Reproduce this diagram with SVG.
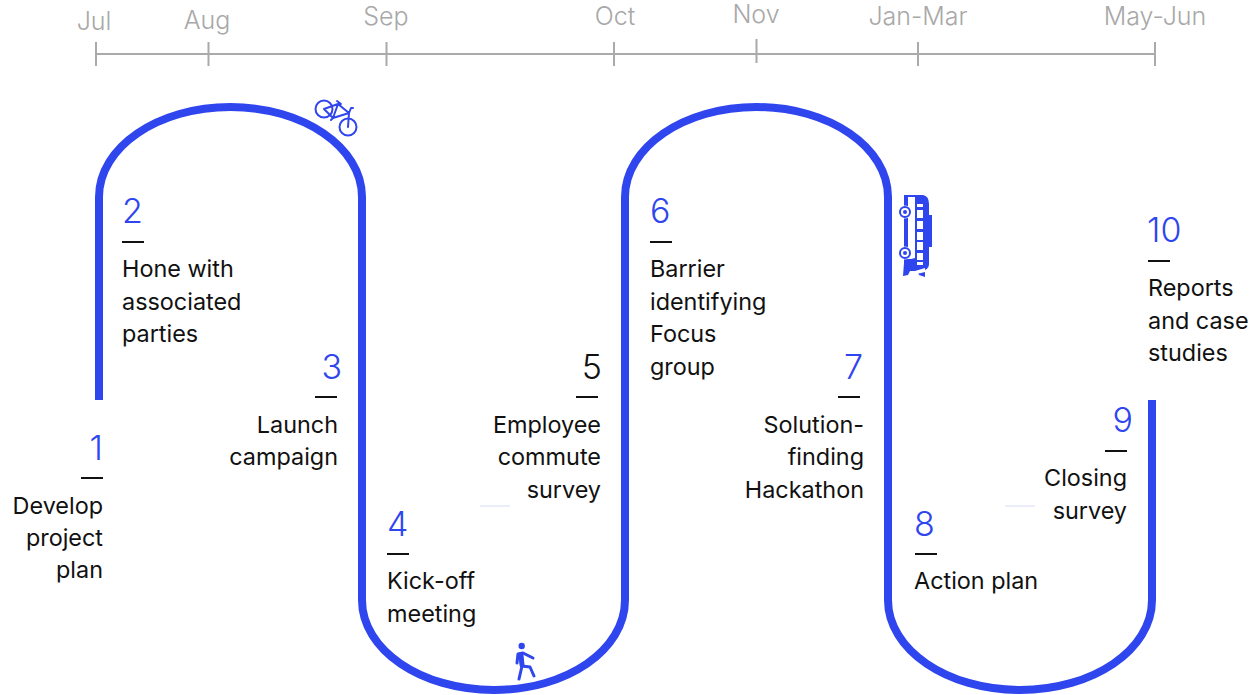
<svg xmlns="http://www.w3.org/2000/svg" width="1251" height="695" viewBox="0 0 1251 695">
<style>
text{font-family:Inter,"Liberation Sans",sans-serif}
.m{font-size:25px;font-weight:300;fill:#a8a8a8;text-anchor:middle}
.n{font-size:34px;font-weight:300;fill:#2f45ee}
.t{font-size:23.400px;fill:#111}
.e{text-anchor:end}
.d{stroke:#111;stroke-width:2;fill:none}
.ax{stroke:#aaa;stroke-width:2;fill:none}
.i{fill:#2f45ee}
.il{fill:none;stroke:#2f45ee;stroke-width:2;stroke-linecap:round;stroke-linejoin:round}
</style>
<rect width="1251" height="695" fill="#fff"/>
<g id="timeline">
<path class="ax" d="M96 54H1155M96 42V66M208.500 42V66M386.500 42V66M614 42V66M756.500 39V63M918 42V66M1155 42V66"/>
<text class="m" x="94" y="30">Jul</text>
<text class="m" x="207" y="29">Aug</text>
<text class="m" x="386" y="25">Sep</text>
<text class="m" x="615" y="25">Oct</text>
<text class="m" x="756" y="23">Nov</text>
<text class="m" x="918" y="25">Jan-Mar</text>
<text class="m" x="1155" y="25">May-Jun</text>
</g>
<g id="connectors">
<path fill="none" stroke="#2f45ee" stroke-width="8" d="M99 400V197C99 147 158 107 230.500 107S362 147 362 197V600C362 650 421 690 494 690S625 650 625 600V197C625 147 684 107 756.500 107S888 147 888 197V600C888 650 947 690 1020 690S1152 650 1152 600V400"/>
<path stroke="#e6e8fa" stroke-width="1.500" d="M480 506H510M1005 506H1035"/>
</g>
<g id="bike">
<circle class="il" cx="324" cy="109" r="8.500"/><circle class="il" cx="348" cy="127" r="8.500"/>
<path class="il" d="M324 109L338 104L333 118L324 109M338 104L349 113L333 118M349 113L348 127M337 101L341 104M349 113L351 108L353 108M333 118L331 120"/>
</g>
<g id="bus">
<path class="i" d="M903 195H923Q929 196 929 204V215H932V247H929V264Q929 268 925 270L925 277L919 275L917 271H910L908 275L903 276L904 263V195Z"/>
<path fill="#fff" d="M908 197H915V258L911 259H908ZM917 204H923V207H917ZM917 210H923V218H917ZM917 221H923V229H917ZM917 232H923V240H917ZM917 242H923V250H917ZM917 253H923V260H917ZM917 262H923V265H917ZM915 271L925 268V272L917 274Z"/>
<circle fill="#fff" cx="905" cy="212" r="6.500"/><circle fill="none" stroke="#2f45ee" stroke-width="2" cx="905" cy="212" r="5"/><circle class="i" cx="905" cy="212" r="2"/>
<circle fill="#fff" cx="905" cy="253" r="6.500"/><circle fill="none" stroke="#2f45ee" stroke-width="2" cx="905" cy="253" r="5"/><circle class="i" cx="905" cy="253" r="2"/>
</g>
<g id="walker">
<circle class="i" cx="521.700" cy="646" r="3.200"/>
<path fill="none" stroke="#2f45ee" stroke-width="3" stroke-linecap="round" stroke-linejoin="round" d="M517 663L518 654L523 653L533 658M519 679L522 666L530 667L534 676"/>
<path fill="none" stroke="#2f45ee" stroke-width="5" stroke-linecap="round" d="M521 655L522 665"/>
</g>
<g id="step1"><text class="n e" x="103" y="460">1</text><path class="d" d="M81 478H103"/><text class="t e"><tspan x="103" y="514">Develop</tspan><tspan x="103" y="546">project</tspan><tspan x="103" y="578">plan</tspan></text></g>
<g id="step2"><text class="n" x="122" y="223">2</text><path class="d" d="M122 242H144"/><text class="t"><tspan x="122" y="277">Hone with</tspan><tspan x="122" y="310">associated</tspan><tspan x="122" y="342">parties</tspan></text></g>
<g id="step3"><text class="n e" x="342" y="379">3</text><path class="d" d="M315 397H337"/><text class="t e"><tspan x="338" y="433">Launch</tspan><tspan x="338" y="465">campaign</tspan></text></g>
<g id="step4"><text class="n" x="387" y="536">4</text><path class="d" d="M387 554H409"/><text class="t"><tspan x="387" y="589">Kick-off</tspan><tspan x="387" y="622">meeting</tspan></text></g>
<g id="step5"><text class="n e" x="602" y="379" style="fill:#111">5</text><path class="d" d="M576 397H598"/><text class="t e"><tspan x="601" y="433">Employee</tspan><tspan x="601" y="465">commute</tspan><tspan x="601" y="498">survey</tspan></text></g>
<g id="step6"><text class="n" x="650" y="223">6</text><path class="d" d="M650 242H672"/><text class="t"><tspan x="650" y="277">Barrier</tspan><tspan x="650" y="310">identifying</tspan><tspan x="650" y="342">Focus</tspan><tspan x="650" y="375">group</tspan></text></g>
<g id="step7"><text class="n e" x="863" y="379">7</text><path class="d" d="M838 397H860"/><text class="t e"><tspan x="864" y="433">Solution-</tspan><tspan x="864" y="465">finding</tspan><tspan x="864" y="498">Hackathon</tspan></text></g>
<g id="step8"><text class="n" x="914" y="536">8</text><path class="d" d="M915 554H937"/><text class="t"><tspan x="914" y="589">Action plan</tspan></text></g>
<g id="step9"><text class="n e" x="1133" y="432">9</text><path class="d" d="M1105 451H1127"/><text class="t e"><tspan x="1127" y="486">Closing</tspan><tspan x="1127" y="519">survey</tspan></text></g>
<g id="step10"><text class="n" x="1147" y="242">10</text><path class="d" d="M1148 261H1170"/><text class="t"><tspan x="1148" y="296">Reports</tspan><tspan x="1148" y="329">and case</tspan><tspan x="1148" y="361">studies</tspan></text></g>
</svg>
